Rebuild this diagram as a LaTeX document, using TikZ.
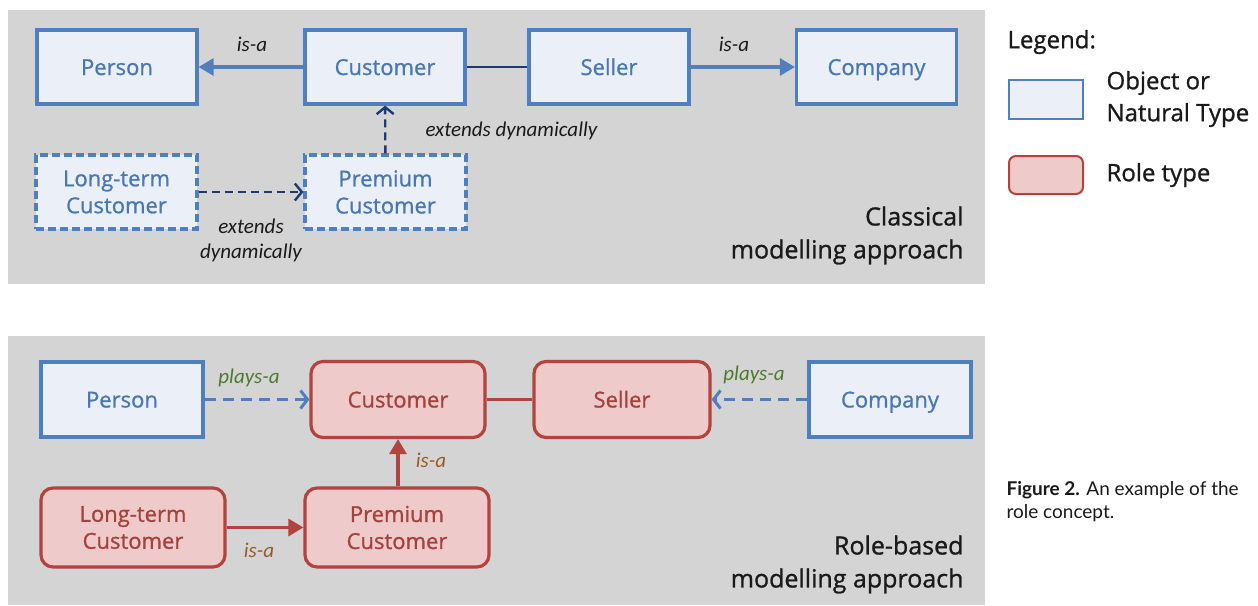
\documentclass[tikz,border=0pt]{standalone}
\usepackage{fontspec}
\setmainfont{Open Sans}[FakeBold=1.2]
\newfontfamily\medfont{Open Sans}[FakeBold=1.0]
\newfontfamily\lblfont{Carlito}
\newfontfamily\capfont{Lato}
\usetikzlibrary{arrows.meta}
\definecolor{panel}{HTML}{D4D4D4}
\definecolor{objfill}{HTML}{EBF0F8}
\definecolor{objline}{HTML}{4F7FBE}
\definecolor{objtext}{HTML}{4A78B4}
\definecolor{rolefill}{HTML}{EFCACA}
\definecolor{roleline}{HTML}{B3433E}
\definecolor{roletext}{HTML}{A5423D}
\definecolor{navy}{HTML}{1F3A6E}
\definecolor{plays}{HTML}{4E7A30}
\definecolor{isabrown}{HTML}{9A5B22}
\definecolor{ink}{HTML}{1A1A1A}
\tikzset{
  objbox/.style={draw=objline, fill=objfill, line width=3.2pt, inner sep=0pt,
    minimum width=160pt, minimum height=74pt, align=center, text=objtext,
    font=\medfont\fontsize{22}{27}\selectfont},
  oneline/.style={text height=16pt, text depth=0pt},
  dynbox/.style={objbox, dashed, dash pattern=on 8pt off 4pt},
  rolebox/.style={draw=roleline, fill=rolefill, line width=3.2pt, inner sep=0pt,
    rounded corners=12pt, minimum width=176pt, minimum height=76pt, align=center,
    text=roletext, font=\medfont\fontsize{22}{27}\selectfont},
  elabel/.style={font=\lblfont\itshape\fontsize{21}{25}\selectfont, text=ink, align=center},
  isalink/.style={draw=objline, line width=3.2pt, -{Triangle[length=15pt,width=17pt]}},
  dynlink/.style={draw=navy, line width=2.4pt, dash pattern=on 8pt off 5pt, -{Straight Barb[length=7pt,width=17pt,line width=2.4pt]}},
  playlink/.style={draw=objline, line width=3.2pt, dash pattern=on 11pt off 7pt, -{Straight Barb[length=7pt,width=18pt,line width=3pt]}},
  rolelink/.style={draw=roleline, line width=3.2pt, -{Triangle[length=15pt,width=17pt]}},
  title/.style={font=\medfont\fontsize{25}{33}\selectfont, text=ink, align=right, anchor=south east},
  legtext/.style={font=\medfont\fontsize{24}{32}\selectfont, text=ink, align=left, anchor=west}
}
\begin{document}
\begin{tikzpicture}[x=1pt,y=-1pt]
\useasboundingbox (0,0) rectangle (1258,605);
\fill[white] (0,0) rectangle (1258,605);
\fill[panel] (8,10) rectangle (985,284);
\fill[panel] (8,336) rectangle (985,605);

% ---- classical
\node[objbox, oneline] (p1) at (117,67) {Person};
\node[objbox, oneline] (c1) at (385,67) {Customer};
\node[objbox, oneline] (s1) at (609,67) {Seller};
\node[objbox, oneline] (co1) at (876.5,67) {Company};
\node[dynbox, minimum width=161pt] (l1) at (116.5,192) {Long-term\\Customer};
\node[dynbox, minimum width=161pt] (pr1) at (385.5,192) {Premium\\Customer};

\draw[isalink] (c1) -- (p1);
\draw[navy, line width=2.2pt] (c1) -- (s1);
\draw[isalink] (s1) -- (co1);
\draw[dynlink] (pr1) -- (c1);
\draw[dynlink] (l1) -- (pr1);

\node[elabel] (t1) at (252,44) {is-a};
\node[elabel] (t2) at (734,44) {is-a};
\node[elabel, anchor=west] (t3) at (422,131) {extends dynamically};
\node[elabel] (t4) at (251,240) {extends\\dynamically};

\node[title] (h1) at (967,268) {Classical\\modelling approach};

% ---- role-based
\node[objbox, oneline, minimum width=162pt, minimum height=75pt] (p2) at (122,399.5) {Person};
\node[rolebox, oneline, minimum width=174pt] (c2) at (398,399.5) {Customer};
\node[rolebox, oneline] (s2) at (622,399.5) {Seller};
\node[objbox, oneline, minimum width=162pt, minimum height=75pt] (co2) at (890,399.5) {Company};
\node[rolebox, minimum width=184pt, minimum height=79pt] (l2) at (133,527.5) {Long-term\\Customer};
\node[rolebox, minimum width=184pt, minimum height=79pt] (pr2) at (397,527.5) {Premium\\Customer};

\draw[playlink] (p2) -- (c2);
\draw[roleline, line width=3pt] (c2) -- (s2);
\draw[playlink] (co2) -- (s2);
\draw[rolelink] (pr2.north -| c2.south) -- (c2.south);
\draw[rolelink] (l2) -- (pr2);

\node[elabel, text=plays] (u1) at (249,378) {plays-a};
\node[elabel, text=plays] (u2) at (754,375) {plays-a};
\node[elabel, text=isabrown] (u3) at (431,460) {is-a};
\node[elabel, text=isabrown] (u4) at (259,550) {is-a};

\node[title] (h2) at (967,597) {Role-based\\modelling approach};

% ---- legend
\node[legtext] (lg) at (1004,42) {Legend:};
\draw[draw=objline, fill=objfill, line width=2pt] (1009,80) rectangle (1083,119);
\node[legtext] (lo) at (1103,99) {Object or\\Natural Type};
\draw[draw=roleline, fill=rolefill, line width=2pt, rounded corners=7pt] (1009,156) rectangle (1083,194);
\node[legtext] (lr) at (1103,175) {Role type};

% ---- caption
\node[anchor=west, align=left, text=ink, font=\capfont\fontsize{19}{23}\selectfont] (cap) at (1003,502)
  {\textbf{Figure 2.} An example of the\\role concept.};
\end{tikzpicture}
\end{document}
